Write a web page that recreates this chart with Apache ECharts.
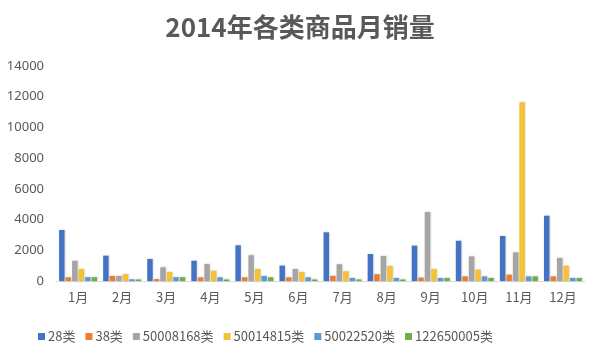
<!DOCTYPE html>
<html>
<head>
<meta charset="utf-8">
<script src="https://cdn.jsdelivr.net/npm/echarts@6/dist/echarts.min.js"></script>
<style>html,body{margin:0;padding:0;background:#fff}#c{width:600px;height:357px}</style>
</head>
<body>
<div id="c"></div>
<script>
const months = ['1月','2月','3月','4月','5月','6月','7月','8月','9月','10月','11月','12月'];
const seriesNames = ['28类','38类','50008168类','50014815类','50022520类','122650005类'];
const s28 =       [3320, 1650, 1430, 1320, 2320, 1000, 3170, 1760, 2300, 2620, 2930, 4250];
const s38 =       [240, 330, 120, 240, 240, 240, 330, 440, 220, 300, 410, 300];
const s50008168 = [1320, 330, 890, 1100, 1670, 780, 1090, 1630, 4490, 1600, 1860, 1500];
const s50014815 = [780, 450, 590, 670, 780, 590, 630, 980, 780, 740, 11630, 1000];
const s50022520 = [250, 110, 250, 240, 330, 240, 200, 200, 200, 300, 300, 200];
const s122650005 = [250, 100, 250, 100, 240, 100, 100, 100, 200, 200, 300, 200];
const yTicks = [0, 2000, 4000, 6000, 8000, 10000, 12000, 14000];

const colors = ['#4472C4','#ED7D31','#A5A5A5','#F7C134','#5B9BD5','#70AD47'];
const allData = [s28, s38, s50008168, s50014815, s50022520, s122650005];

const chart = echarts.init(document.getElementById('c'));
chart.setOption({
  animation: false,
  color: colors,
  title: {
    text: '2014年各类商品月销量',
    left: 'center', top: 9,
    textStyle: { fontFamily: 'Noto Sans CJK SC', fontSize: 26, fontWeight: 'bold', color: '#595959' }
  },
  legend: {
    bottom: 9, left: 33,
    itemWidth: 7, itemHeight: 7, itemGap: 10,
    icon: 'rect',
    textStyle: { fontFamily: 'Noto Sans CJK SC', fontSize: 13, color: '#595959', padding: [0,0,0,-2] },
    data: seriesNames
  },
  grid: { left: 56, right: 15, top: 66, bottom: 76 },
  xAxis: {
    type: 'category', data: months,
    axisLine: { lineStyle: { color: '#D9D9D9' } },
    axisTick: { show: false },
    axisLabel: { fontFamily: 'Noto Sans CJK SC', fontSize: 13, color: '#595959', margin: 10 }
  },
  yAxis: {
    type: 'value', min: yTicks[0], max: yTicks[yTicks.length-1], interval: 2000,
    axisLine: { show: false }, axisTick: { show: false },
    splitLine: { show: false },
    axisLabel: { fontFamily: 'Noto Sans', fontSize: 13, color: '#595959', margin: 12,
      formatter: v => String(v) }
  },
  series: seriesNames.map((n, i) => ({
    name: n, type: 'bar', data: allData[i],
    barGap: '20%', barCategoryGap: '14%',
    itemStyle: { shadowColor: 'rgba(0,0,0,0.25)', shadowBlur: 2, shadowOffsetX: 0.5 }
  }))
});
</script>
</body>
</html>
